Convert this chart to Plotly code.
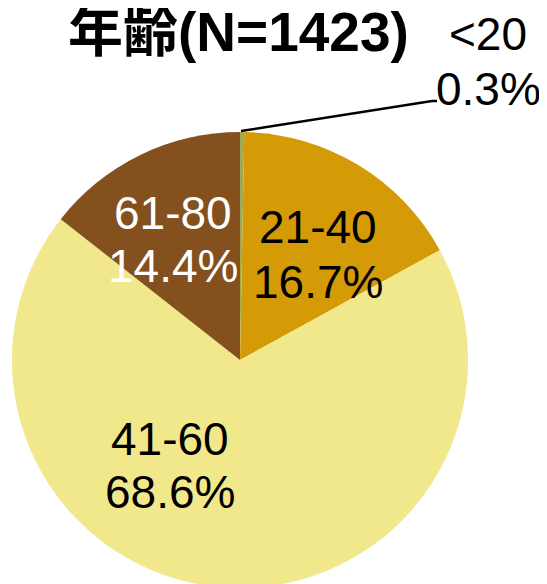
import plotly.graph_objects as go

labels = ["<20", "21-40", "41-60", "61-80"]
percents = [0.3, 16.7, 68.6, 14.4]
colors = ["#9EAA5A", "#D49B06", "#F0E88A", "#84501E"]
title_text = "年齢(N=1423)"

W, H = 547, 584
def px(x): return x / W
def py(y): return 1 - y / H

# pie centre (232, 352) and radius 228 in figure pixels
cx, cy, r = 232, 352, 228
fig = go.Figure(go.Pie(
    labels=labels, values=percents, sort=False, direction="clockwise", rotation=0,
    marker=dict(colors=colors, line=dict(width=0)),
    textinfo="none", hoverinfo="label+percent", showlegend=False,
    domain=dict(x=[px(cx - r), px(cx + r)], y=[(H - cy - r) / H, (H - cy + r) / H]),
))

font = "Liberation Sans, Arial, Noto Sans CJK JP, sans-serif"
# (x, y line1, y line2, colour) in figure pixels
label_pos = {
    "<20": (480, 26, 81, "black"),
    "21-40": (310, 218.5, 273.5, "black"),
    "41-60": (162, 430.5, 484, "black"),
    "61-80": (165, 204.5, 258, "white"),
}
anns = []
for lab, p in zip(labels, percents):
    x, y1, y2, c = label_pos[lab]
    for txt, y in ((lab, y1), (f"{p}%", y2)):
        anns.append(dict(x=px(x), y=py(y), xref="paper", yref="paper", showarrow=False,
                         text=txt, font=dict(family=font, size=46, color=c),
                         xanchor="center", yanchor="middle"))
anns.append(dict(x=px(230.5), y=py(24), xref="paper", yref="paper", showarrow=False,
                 text=f"<b>{title_text}</b>", font=dict(family=font, size=55, color="black"),
                 xanchor="center", yanchor="middle"))

fig.update_layout(
    width=W, height=H, margin=dict(l=0, r=0, t=0, b=0),
    paper_bgcolor="white", plot_bgcolor="white",
    annotations=anns,
    shapes=[dict(type="path", xref="paper", yref="paper",
                 path=f"M {px(233)} {py(123)} L {px(424)} {py(93)} L {px(429)} {py(93)}",
                 line=dict(color="black", width=2.5))],
)
fig.write_html("out.html")
